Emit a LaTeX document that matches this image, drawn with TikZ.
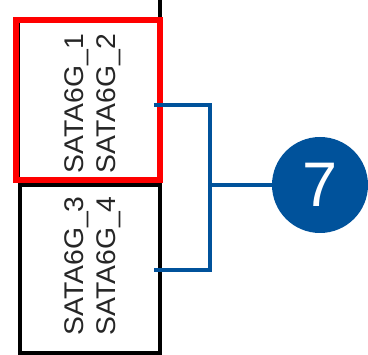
\documentclass[tikz,border=0pt]{standalone}
\usepackage{fontspec}
\setmainfont{Liberation Sans}
\newfontfamily\portfont[FakeStretch=1.05]{Liberation Sans}
\usepackage{tikz}
\usetikzlibrary{positioning}
\definecolor{calloutblue}{RGB}{0,82,155}
\tikzset{
x=1pt, y=-1pt, % one unit is one pixel of the reference, y runs down
cell/.style={draw=black, line width=4pt, minimum width=140pt, minimum height=168pt, inner sep=0pt}, % a connector cell of the board
portname/.style={inner sep=0pt, font=\portfont\fontsize{27}{32.5}\selectfont, text=black!85}, % the two port names in a cell
hilite/.style={draw=red, line width=6pt}, % red frame round the marked cell
bracket/.style={draw=calloutblue, line width=3.5pt}, % the blue leader lines
callout/.style={circle, fill=calloutblue, text=white, minimum size=96pt, inner sep=0pt,
  font=\fontsize{63}{63}\selectfont}, % numbered bubble
}
\newcommand{\portlabel}[2]{\rotatebox{90}{\begin{tabular}{@{}l@{}}#1\\#2\end{tabular}}}

\begin{document}
\begin{tikzpicture}
\useasboundingbox (0,0) rectangle (368,355);
\coordinate (railtop) at (160,0);
\coordinate (railbot) at (160,355);
\draw[line width=4pt] (railtop) -- (railbot);
\node[cell, minimum width=142pt, minimum height=160pt] (sata12) at (89,100) {};
\node[cell] (sata34) at (90,269) {};
\draw[line width=4pt] (sata34.south west) -- ++(0,5);
\draw[hilite] (16,20) rectangle (160,180);
\node[portname] (lbl12) at (93,103.5) {\portlabel{SATA6G\_1}{SATA6G\_2}};
\node[portname] (lbl34) at (93,266) {\portlabel{SATA6G\_3}{SATA6G\_4}};
\node[callout] (num7) at (320,185) {7};
\coordinate (fork) at (210,185);
\draw[bracket] ([xshift=-8pt,yshift=-5pt]sata12.east) -| (fork) |- ([xshift=-8pt,yshift=-1pt]sata34.east);
\draw[bracket] (fork) -- (num7);
\end{tikzpicture}
\end{document}
